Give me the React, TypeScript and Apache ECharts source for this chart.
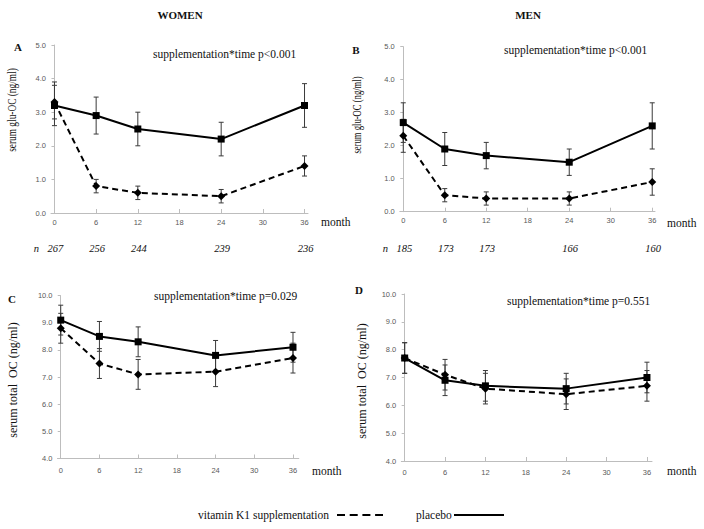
import React, { useEffect, useRef } from "react";
import * as echarts from "echarts";

// ---- data ----
const months = [0, 6, 12, 24, 36];
const xTicks = [0, 6, 12, 18, 24, 30, 36];

// A: women, serum glu-OC
const womenGluPlacebo = [3.2, 2.9, 2.5, 2.2, 3.2];
const womenGluPlaceboLow = [2.6, 2.35, 2.0, 1.7, 2.55];
const womenGluPlaceboHigh = [3.9, 3.45, 3.0, 2.7, 3.85];
const womenGluK1 = [3.3, 0.8, 0.6, 0.5, 1.4];
const womenGluK1Low = [2.8, 0.6, 0.4, 0.3, 1.1];
const womenGluK1High = [3.8, 1.0, 0.8, 0.7, 1.7];
const womenN = ["267", "256", "244", "239", "236"];

// B: men, serum glu-OC
const menGluPlacebo = [2.7, 1.9, 1.7, 1.5, 2.6];
const menGluPlaceboLow = [2.1, 1.4, 1.3, 1.1, 1.9];
const menGluPlaceboHigh = [3.3, 2.4, 2.1, 1.9, 3.3];
const menGluK1 = [2.3, 0.5, 0.4, 0.4, 0.9];
const menGluK1Low = [1.8, 0.3, 0.2, 0.2, 0.5];
const menGluK1High = [2.8, 0.7, 0.6, 0.6, 1.3];
const menN = ["185", "173", "173", "166", "160"];

// C: women, serum total OC
const womenTotPlacebo = [9.1, 8.5, 8.3, 7.8, 8.1];
const womenTotPlaceboLow = [8.55, 7.95, 7.75, 7.25, 7.55];
const womenTotPlaceboHigh = [9.65, 9.05, 8.85, 8.35, 8.65];
const womenTotK1 = [8.8, 7.5, 7.1, 7.2, 7.7];
const womenTotK1Low = [8.25, 6.95, 6.55, 6.65, 7.15];
const womenTotK1High = [9.35, 8.05, 7.65, 7.75, 8.25];

// D: men, serum total OC
const menTotPlacebo = [7.7, 6.9, 6.7, 6.6, 7.0];
const menTotPlaceboLow = [7.15, 6.35, 6.15, 6.05, 6.45];
const menTotPlaceboHigh = [8.25, 7.45, 7.25, 7.15, 7.55];
const menTotK1 = [7.7, 7.1, 6.6, 6.4, 6.7];
const menTotK1Low = [7.15, 6.55, 6.05, 5.85, 6.15];
const menTotK1High = [8.25, 7.65, 7.15, 6.95, 7.25];

const pValues = [
  "supplementation*time p<0.001",
  "supplementation*time p<0.001",
  "supplementation*time p=0.029",
  "supplementation*time p=0.551",
];
const panelLetters = ["A", "B", "C", "D"];
const yNames = [
  "serum glu-OC (ng/ml)",
  "serum glu-OC (ng/ml)",
  "serum total  OC (ng/ml)",
  "serum total  OC (ng/ml)",
];
const legendK1 = "vitamin K1 supplementation";
const legendPlacebo = "placebo";

const SERIF = "'Liberation Serif', 'Times New Roman', serif";
const SANS = "'Liberation Sans', Arial, sans-serif";

export default function App() {
  const ref = useRef<HTMLDivElement>(null);

  useEffect(() => {
    document.body.style.margin = "0";
    if (!ref.current) return;
    const chart = echarts.init(ref.current, null, { renderer: "svg" });

    const panels = [
      { p: womenGluPlacebo, pl: womenGluPlaceboLow, ph: womenGluPlaceboHigh, k: womenGluK1, kl: womenGluK1Low, kh: womenGluK1High },
      { p: menGluPlacebo, pl: menGluPlaceboLow, ph: menGluPlaceboHigh, k: menGluK1, kl: menGluK1Low, kh: menGluK1High },
      { p: womenTotPlacebo, pl: womenTotPlaceboLow, ph: womenTotPlaceboHigh, k: womenTotK1, kl: womenTotK1Low, kh: womenTotK1High },
      { p: menTotPlacebo, pl: menTotPlaceboLow, ph: menTotPlaceboHigh, k: menTotK1, kl: menTotK1Low, kh: menTotK1High },
    ];

    const grids = [
      { left: 51, top: 45, width: 257, height: 168 },
      { left: 399.8, top: 46.7, width: 255.2, height: 165 },
      { left: 57.5, top: 295.7, width: 241.3, height: 162.8 },
      { left: 401.3, top: 294, width: 250.7, height: 167 },
    ];
    const xMax = [36.5, 36.4, 36.9, 36.75];
    const yRange = [
      [0, 5],
      [0, 5],
      [4, 10],
      [4, 10],
    ];
    const xLabelMargin = [5, 5, 8, 7];

    const axisLineColor = "#bdbdbd";

    const xAxes = grids.map((_, i) => ({
      type: "value",
      gridIndex: i,
      min: -0.5,
      max: xMax[i],
      axisLine: { show: true, onZero: false, lineStyle: { color: axisLineColor, width: 1 } },
      axisTick: { show: true, inside: true, length: 4, customValues: xTicks, lineStyle: { color: axisLineColor } },
      axisLabel: {
        show: true,
        customValues: xTicks,
        margin: xLabelMargin[i],
        fontSize: 7.5,
        fontFamily: SANS,
        color: "#595959",
      },
      splitLine: { show: false },
    }));

    const yAxes = grids.map((_, i) => ({
      type: "value",
      gridIndex: i,
      min: yRange[i][0],
      max: yRange[i][1],
      interval: 1,
      axisLine: { show: true, lineStyle: { color: axisLineColor, width: 1 } },
      axisTick: { show: true, length: 3, lineStyle: { color: axisLineColor } },
      axisLabel: {
        margin: 5,
        fontSize: 7.5,
        fontFamily: SANS,
        color: "#595959",
        formatter: (v: number) => v.toFixed(1),
      },
      splitLine: { show: false },
    }));

    const errorRender = (params: any, api: any) => {
      const x = api.value(0);
      const lo = api.coord([x, api.value(1)]);
      const hi = api.coord([x, api.value(2)]);
      const cw = 2.5;
      const style = { stroke: "#3a3a3a", lineWidth: 1 };
      return {
        type: "group",
        children: [
          { type: "line", shape: { x1: hi[0], y1: hi[1], x2: lo[0], y2: lo[1] }, style },
          { type: "line", shape: { x1: hi[0] - cw, y1: hi[1], x2: hi[0] + cw, y2: hi[1] }, style },
          { type: "line", shape: { x1: lo[0] - cw, y1: lo[1], x2: lo[0] + cw, y2: lo[1] }, style },
        ],
      };
    };

    const series: any[] = [];
    panels.forEach((pn, i) => {
      series.push({
        type: "custom",
        xAxisIndex: i,
        yAxisIndex: i,
        renderItem: errorRender,
        encode: { x: 0, y: [1, 2] },
        data: months.map((m, j) => [m, pn.pl[j], pn.ph[j]]),
        z: 1,
        silent: true,
      });
      series.push({
        type: "custom",
        xAxisIndex: i,
        yAxisIndex: i,
        renderItem: errorRender,
        encode: { x: 0, y: [1, 2] },
        data: months.map((m, j) => [m, pn.kl[j], pn.kh[j]]),
        z: 1,
        silent: true,
      });
      series.push({
        name: legendPlacebo,
        type: "line",
        xAxisIndex: i,
        yAxisIndex: i,
        data: months.map((m, j) => [m, pn.p[j]]),
        symbol: "rect",
        symbolSize: 7,
        itemStyle: { color: "#000" },
        lineStyle: { color: "#000", width: 2 },
        z: 3,
      });
      series.push({
        name: legendK1,
        type: "line",
        xAxisIndex: i,
        yAxisIndex: i,
        data: months.map((m, j) => [m, pn.k[j]]),
        symbol: "diamond",
        symbolSize: 8,
        itemStyle: { color: "#000" },
        lineStyle: { color: "#000", width: 2, type: [6, 4] },
        z: 2,
      });
    });

    chart.setOption({
      animation: false,
      backgroundColor: "#fff",
      grid: grids,
      xAxis: xAxes,
      yAxis: yAxes,
      series,
    });

    const txt = (text: string, x: number, y: number, extra: any = {}, el: any = {}) => ({
      type: "text",
      x,
      y,
      ...el,
      style: {
        text,
        fontFamily: SERIF,
        fontSize: 11.5,
        fill: "#111",
        textAlign: "left",
        textVerticalAlign: "middle",
        ...extra,
      },
    });

    const graphics: any[] = [];
    graphics.push(txt("WOMEN", 180, 15, { fontWeight: "bold", fontSize: 11, textAlign: "center" }));
    graphics.push(txt("MEN", 528, 15, { fontWeight: "bold", fontSize: 11, textAlign: "center" }));

    const letterPos = [
      [18, 47],
      [356, 50],
      [12, 299],
      [359, 290],
    ];
    const pPos = [
      [153, 54],
      [504, 50],
      [154, 296],
      [507, 301],
    ];
    const yNamePos = [
      [12, 110, 0.78],
      [357, 115, 0.72],
      [13, 380, 1],
      [362, 381, 1],
    ];
    const monthPos = [
      [321, 222],
      [667, 222.5],
      [312, 471],
      [667, 471],
    ];
    for (let i = 0; i < 4; i++) {
      graphics.push(
        txt(panelLetters[i], letterPos[i][0], letterPos[i][1], { fontWeight: "bold", fontSize: 11, textAlign: "center" })
      );
      graphics.push(txt(pValues[i], pPos[i][0], pPos[i][1], { fontSize: 11.5 }));
      graphics.push(
        txt(
          yNames[i],
          yNamePos[i][0],
          yNamePos[i][1],
          { fontSize: 12, textAlign: "center" },
          { rotation: Math.PI / 2, scaleX: yNamePos[i][2] }
        )
      );
      graphics.push(txt("month", monthPos[i][0], monthPos[i][1], { fontSize: 11.5 }));
    }

    // n labels under panels A and B, aligned to the x-axis ticks
    const nRows = [womenN, menN];
    const nY = 248;
    nRows.forEach((row, gi) => {
      const x0 = chart.convertToPixel({ gridIndex: gi } as any, [0, 0]) as number[];
      graphics.push(txt("n", x0[0] - 18, nY, { fontStyle: "italic", fontSize: 10.5, textAlign: "center" }));
      row.forEach((lab, j) => {
        const pt = chart.convertToPixel({ gridIndex: gi } as any, [months[j], 0]) as number[];
        graphics.push(txt(lab, pt[0] + 1, nY, { fontStyle: "italic", fontSize: 10.5, textAlign: "center" }));
      });
    });

    // legend
    graphics.push(txt(legendK1, 198, 515, { fontSize: 11.5 }));
    graphics.push({
      type: "line",
      shape: { x1: 337, y1: 515, x2: 383, y2: 515 },
      style: { stroke: "#000", lineWidth: 2, lineDash: [8, 4.7] },
    });
    graphics.push(txt(legendPlacebo, 416, 515, { fontSize: 11.5 }));
    graphics.push({
      type: "line",
      shape: { x1: 454, y1: 515, x2: 504, y2: 515 },
      style: { stroke: "#000", lineWidth: 2 },
    });

    chart.setOption({ graphic: graphics });

    return () => chart.dispose();
  }, []);

  return <div ref={ref} style={{ width: 704, height: 529 }} />;
}
